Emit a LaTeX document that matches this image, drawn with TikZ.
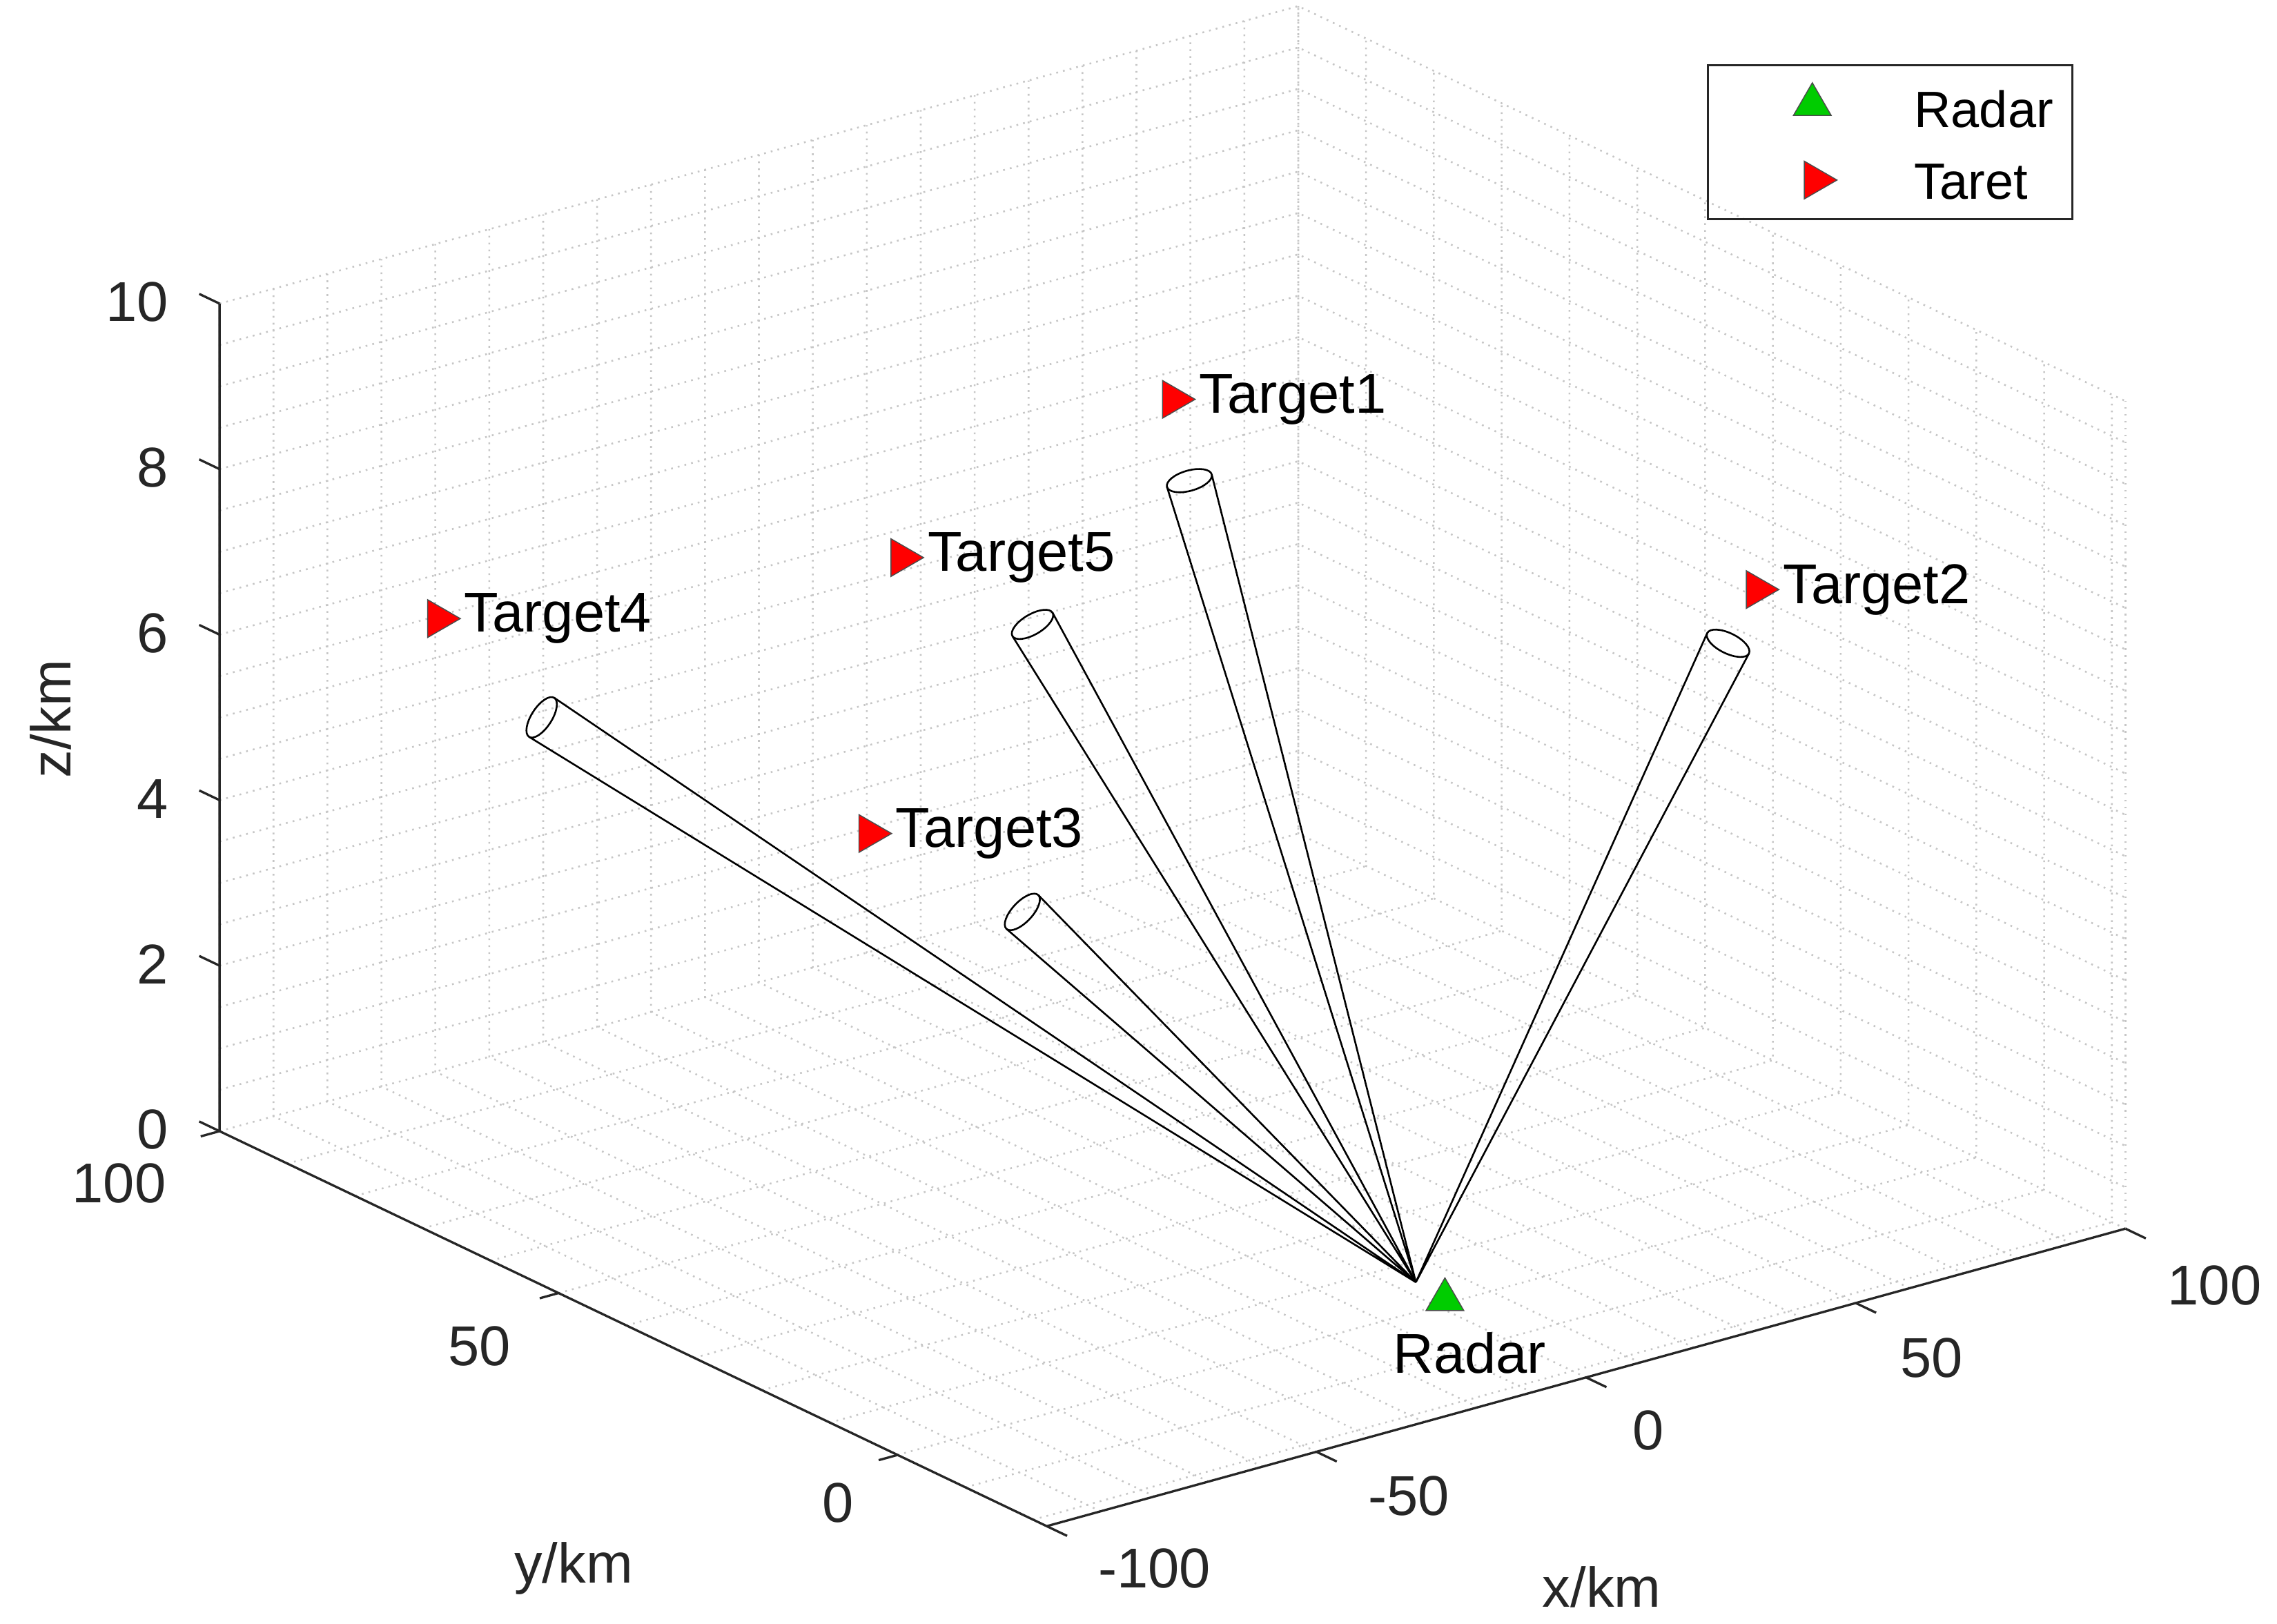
\documentclass[tikz,border=0pt]{standalone}
\usepackage{fontspec}
\setmainfont{Liberation Sans}
\usepackage{tikz}
\usetikzlibrary{shapes.geometric,calc}
\definecolor{axisgray}{gray}{0.15}
\tikzset{
  gridline/.style={gray!45, dotted, line width=0.7pt},
  axisline/.style={axisgray, line width=0.9pt},
  ticklbl/.style={axisgray, font=\fontsize{22}{26}\selectfont},
  beam/.style={black, line width=0.7pt},
  tgt/.style={regular polygon, regular polygon sides=3, shape border rotate=-90, fill=red, draw=black!70, line width=0.4pt, minimum size=0.6cm, inner sep=0pt},
  rdr/.style={regular polygon, regular polygon sides=3, fill=green!80!black, draw=black!70, line width=0.4pt, minimum size=0.6cm, inner sep=0pt},
  tlbl/.style={font=\fontsize{22}{26}\selectfont, inner sep=1pt, anchor=west}
}
\newcommand{\beam}[1]{
  \draw[beam] ($(#1)!0.32cm!90:(apex)$) -- (apex) -- ($(#1)!0.32cm!-90:(apex)$);
  \draw[beam] let \p1=($(apex)-(#1)$), \n1={atan2(\y1,\x1)} in (#1) ellipse [x radius=0.14cm, y radius=0.32cm, rotate=\n1];
}
\begin{document}
\begin{tikzpicture}[x=0.02cm,y=-0.02cm]
\useasboundingbox (0,0) rectangle (1568,1118);
% grid on floor and back walls
\begin{scope}[shift={(989.5,899.5)}, x={(0.0743cm,0.0205cm)}, y={(-0.0934cm,0.0446cm)}, z={(0cm,1.14cm)}]
  \foreach \gx in {-100,-90,...,100}
    \draw[gridline] (\gx,-22,0) -- (\gx,100,0) -- (\gx,100,10);
  \foreach \gy in {-20,-10,...,100}
    \draw[gridline] (-100,\gy,0) -- (100,\gy,0) -- (100,\gy,10);
  \draw[gridline] (100,-22,0) -- (100,-22,10);
  \foreach \gz in {0.5,1,...,10}
    \draw[gridline] (-100,100,\gz) -- (100,100,\gz) -- (100,-22,\gz);
  % axes
  \draw[axisline] (-100,100,10) -- (-100,100,0) -- (-100,-22,0) -- (100,-22,0);
  \foreach \gz in {0,2,...,10}
    \draw[axisline] (-100,100,\gz) -- (-100,103,\gz);
  \foreach \gy in {0,50,100}
    \draw[axisline] (-100,\gy,0) -- (-103.5,\gy,0);
  \foreach \gx in {-100,-50,...,100}
    \draw[axisline] (\gx,-22,0) -- (\gx,-25,0);
\end{scope}
% tick labels
\foreach \zv/\zp in {0/778,2/664,4/550,6/436,8/322,10/208}
  \node[ticklbl, anchor=east] (zt\zv) at (122,\zp) {\zv};
\node[ticklbl] (yt100) at (82,815) {100};
\node[ticklbl] (yt50) at (330,927) {50};
\node[ticklbl] (yt0) at (577,1035) {0};
\node[ticklbl] (xtm100) at (795,1080) {-100};
\node[ticklbl] (xtm50) at (970,1030) {-50};
\node[ticklbl] (xt0) at (1135,985) {0};
\node[ticklbl] (xt50) at (1330,935) {50};
\node[ticklbl] (xt100) at (1525,885) {100};
\node[ticklbl, rotate=90] (zlab) at (35,495) {z/km};
\node[ticklbl] (ylab) at (395,1080) {y/km};
\node[ticklbl] (xlab) at (1103,1093) {x/km};
% beams
\coordinate (apex) at (975,883);
\coordinate (b1) at (819,331);
\coordinate (b2) at (1190,443);
\coordinate (b3) at (704,628);
\coordinate (b4) at (373,494);
\coordinate (b5) at (711,430);
\beam{b1}
\beam{b2}
\beam{b3}
\beam{b4}
\beam{b5}
% targets
\node[tgt] (t1) at (808,275) {};
\node[tgt] (t2) at (1210,406) {};
\node[tgt] (t3) at (599,574) {};
\node[tgt] (t4) at (302,426) {};
\node[tgt] (t5) at (621,384) {};
\foreach \i in {1,...,5}
  \node[tlbl] (t\i lbl) at (t\i.east) {Target\i};
% radar
\node[rdr] (radar) at (995,895) {};
\node[font=\fontsize{22}{26}\selectfont] (radarlbl) at (1012,932) {Radar};
% legend
\node[draw=black!85, line width=0.8pt, minimum width=5.02cm, minimum height=2.12cm] (legend) at (1301.5,98) {};
\node[rdr] (legr) at (1248,72) {};
\node[tgt] (legt) at (1250,124) {};
\node[font=\fontsize{20}{24}\selectfont, anchor=west] (legrlbl) at (1312,75) {Radar};
\node[font=\fontsize{20}{24}\selectfont, anchor=west] (legtlbl) at (1312,125) {Taret};
\end{tikzpicture}
\end{document}
